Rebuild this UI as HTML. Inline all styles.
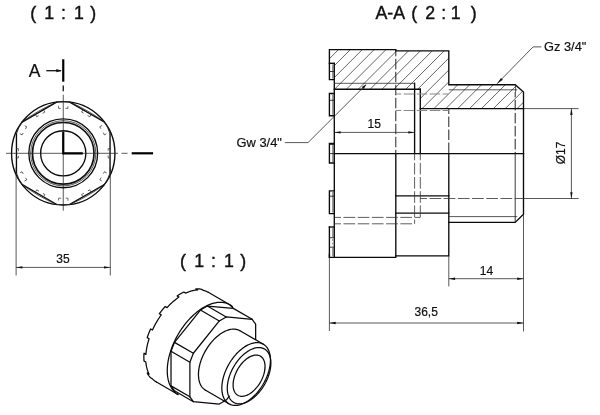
<!DOCTYPE html>
<html><head><meta charset="utf-8"><title>A-A section drawing</title>
<style>
html,body{margin:0;padding:0;background:#fff;}
svg{display:block;}
text{font-family:"Liberation Sans",sans-serif;fill:#111;stroke:#111;stroke-width:0.2;}
.ti{stroke-width:0.4;}
.k{stroke:#0a0a0a;stroke-width:1.35;fill:none;stroke-linecap:square;stroke-linejoin:miter;}
.k2{stroke:#111;stroke-width:1.7;fill:none;}
.kk{stroke:#111;stroke-width:1.3;fill:none;}
.m{stroke:#222;stroke-width:0.9;fill:none;}
.t{stroke:#222;stroke-width:0.75;fill:none;}
.h{stroke:#333;stroke-width:0.75;fill:none;}
.d{stroke:#222;stroke-width:1.0;fill:none;stroke-dasharray:10.5 2.5;stroke-dashoffset:5.1;}
.d2{stroke:#888;stroke-width:1.1;fill:none;stroke-dasharray:10.5 2.5;stroke-dashoffset:5.1;}
.nm{stroke:#333;stroke-width:0.7;fill:none;stroke-dasharray:4.8 4.6 4.8 100;}
.d4{stroke:#333;stroke-width:0.8;fill:none;stroke-dasharray:11.7 2.5;stroke-dashoffset:5;}
.d3{stroke:#444;stroke-width:0.6;fill:none;stroke-dasharray:2 1.5;}
.cut{stroke:#000;stroke-width:2.2;fill:none;stroke-linecap:butt;stroke-linejoin:miter;}
.f{fill:#111;stroke:none;}
.i{stroke:#0a0a0a;stroke-width:1.25;fill:none;stroke-linecap:round;stroke-linejoin:round;}
.it{stroke:#222;stroke-width:0.75;fill:none;stroke-linecap:round;stroke-linejoin:round;}
</style></head><body>
<svg style="will-change:transform" width="600" height="415" viewBox="0 0 600 415">
<rect width="600" height="415" fill="#fff"/>
<clipPath id="hc"><path d="M329.40,49.60 L395.80,49.60 L395.80,50.90 L448.80,50.90 L448.80,84.70 L515.20,84.70 L523.50,92.00 L523.50,108.60 L420.30,108.60 L420.30,89.20 L334.30,89.20 L334.30,63.30 L329.40,63.30 Z"/></clipPath>
<g clip-path="url(#hc)">
<line class="h" x1="253.06" y1="40.00" x2="178.06" y2="115.00"/>
<line class="h" x1="264.94" y1="40.00" x2="189.94" y2="115.00"/>
<line class="h" x1="276.82" y1="40.00" x2="201.82" y2="115.00"/>
<line class="h" x1="288.70" y1="40.00" x2="213.70" y2="115.00"/>
<line class="h" x1="300.58" y1="40.00" x2="225.58" y2="115.00"/>
<line class="h" x1="312.46" y1="40.00" x2="237.46" y2="115.00"/>
<line class="h" x1="324.34" y1="40.00" x2="249.34" y2="115.00"/>
<line class="h" x1="336.22" y1="40.00" x2="261.22" y2="115.00"/>
<line class="h" x1="348.10" y1="40.00" x2="273.10" y2="115.00"/>
<line class="h" x1="359.98" y1="40.00" x2="284.98" y2="115.00"/>
<line class="h" x1="371.86" y1="40.00" x2="296.86" y2="115.00"/>
<line class="h" x1="383.74" y1="40.00" x2="308.74" y2="115.00"/>
<line class="h" x1="395.62" y1="40.00" x2="320.62" y2="115.00"/>
<line class="h" x1="407.50" y1="40.00" x2="332.50" y2="115.00"/>
<line class="h" x1="419.38" y1="40.00" x2="344.38" y2="115.00"/>
<line class="h" x1="431.26" y1="40.00" x2="356.26" y2="115.00"/>
<line class="h" x1="443.14" y1="40.00" x2="368.14" y2="115.00"/>
<line class="h" x1="455.02" y1="40.00" x2="380.02" y2="115.00"/>
<line class="h" x1="466.90" y1="40.00" x2="391.90" y2="115.00"/>
<line class="h" x1="478.78" y1="40.00" x2="403.78" y2="115.00"/>
<line class="h" x1="490.66" y1="40.00" x2="415.66" y2="115.00"/>
<line class="h" x1="502.54" y1="40.00" x2="427.54" y2="115.00"/>
<line class="h" x1="514.42" y1="40.00" x2="439.42" y2="115.00"/>
<line class="h" x1="526.30" y1="40.00" x2="451.30" y2="115.00"/>
<line class="h" x1="538.18" y1="40.00" x2="463.18" y2="115.00"/>
<line class="h" x1="550.06" y1="40.00" x2="475.06" y2="115.00"/>
<line class="h" x1="561.94" y1="40.00" x2="486.94" y2="115.00"/>
<line class="h" x1="573.82" y1="40.00" x2="498.82" y2="115.00"/>
<line class="h" x1="585.70" y1="40.00" x2="510.70" y2="115.00"/>
</g>
<path class="k" d="M334.30,79.60 L329.40,79.60 L329.40,49.60 L395.80,49.60 L395.80,50.90 L448.80,50.90 L448.80,84.70 L515.20,84.70 L523.50,92.00 L523.50,214.30 L515.20,222.40 L448.80,222.40"/>
<path class="k" d="M329.40,254.30 L329.40,257.30 L395.80,257.30 L395.80,255.90 L448.80,255.90 L448.80,153.60"/>
<line class="k" x1="334.30" y1="63.30" x2="334.30" y2="257.30"/>
<line class="k" x1="334.30" y1="89.20" x2="420.30" y2="89.20"/>
<line class="k" x1="420.30" y1="89.20" x2="420.30" y2="153.60"/>
<line class="k" x1="414.60" y1="83.30" x2="414.60" y2="153.60"/>
<line class="k" x1="420.30" y1="108.60" x2="523.50" y2="108.60"/>
<line class="t" x1="334.30" y1="83.30" x2="414.60" y2="83.30"/>
<line class="t" x1="448.80" y1="89.80" x2="517.20" y2="89.80"/>
<line class="k" x1="334.30" y1="153.60" x2="523.50" y2="153.60"/>
<line class="k" x1="395.80" y1="153.60" x2="395.80" y2="255.90"/>
<line class="k" x1="395.80" y1="195.90" x2="448.80" y2="195.90"/>
<line class="k" x1="395.80" y1="213.10" x2="448.80" y2="213.10"/>
<line class="t" x1="448.80" y1="216.60" x2="517.20" y2="216.60"/>
<line class="m" x1="515.20" y1="153.60" x2="515.20" y2="222.40"/>
<line class="t" x1="515.60" y1="84.70" x2="515.60" y2="92.00"/>
<line class="d" x1="395.80" y1="50.90" x2="395.80" y2="153.60"/>
<line class="d" x1="448.80" y1="108.60" x2="448.80" y2="153.60"/>
<line class="d" x1="515.20" y1="92.00" x2="515.20" y2="153.60"/>
<line class="d2" x1="395.80" y1="94.00" x2="448.80" y2="94.00"/>
<line class="d2" x1="395.80" y1="110.50" x2="448.80" y2="110.50"/>
<line class="d4" x1="414.60" y1="153.60" x2="414.60" y2="223.80"/>
<line class="d4" x1="420.30" y1="153.60" x2="420.30" y2="217.40"/>
<line class="d4" x1="334.30" y1="217.40" x2="420.30" y2="217.40"/>
<line class="d4" x1="334.30" y1="223.80" x2="414.60" y2="223.80"/>
<line class="d4" x1="420.30" y1="198.50" x2="523.50" y2="198.50"/>
<line class="k" x1="329.40" y1="63.30" x2="334.30" y2="63.30"/>
<line class="t" x1="332.90" y1="64.30" x2="332.90" y2="78.60"/>
<line class="m" x1="329.40" y1="71.50" x2="334.30" y2="71.50"/>
<path class="k" d="M334.30,93.50 L329.40,93.50 L329.40,115.70 L334.30,115.70"/>
<line class="t" x1="332.90" y1="94.50" x2="332.90" y2="114.70"/>
<line class="m" x1="329.40" y1="100.30" x2="334.30" y2="100.30"/>
<path class="k" d="M334.30,143.50 L329.40,143.50 L329.40,163.00 L334.30,163.00"/>
<line class="t" x1="332.90" y1="144.50" x2="332.90" y2="162.00"/>
<path class="k" d="M334.30,190.90 L329.40,190.90 L329.40,213.60 L334.30,213.60"/>
<line class="t" x1="332.90" y1="191.90" x2="332.90" y2="212.60"/>
<line class="m" x1="329.40" y1="196.20" x2="334.30" y2="196.20"/>
<line class="k" x1="329.40" y1="227.00" x2="334.30" y2="227.00"/>
<line class="k" x1="329.40" y1="227.00" x2="329.40" y2="257.30"/>
<line class="m" x1="329.40" y1="237.70" x2="334.30" y2="237.70"/>
<line class="m" x1="329.40" y1="247.20" x2="334.30" y2="247.20"/>
<line class="t" x1="332.90" y1="228.00" x2="332.90" y2="237.00"/>
<line class="t" x1="332.90" y1="248.00" x2="332.90" y2="256.30"/>
<line class="d3" x1="332.40" y1="239.00" x2="332.40" y2="246.50"/>
<line class="m" x1="329.40" y1="153.60" x2="334.30" y2="153.60"/>
<line class="k2" x1="329.40" y1="143.90" x2="334.30" y2="143.90"/>
<line class="t" x1="523.50" y1="108.60" x2="578.60" y2="108.60"/>
<line class="t" x1="523.50" y1="198.50" x2="578.60" y2="198.50"/>
<line class="t" x1="571.40" y1="108.60" x2="571.40" y2="198.50"/>
<polygon class="f" points="571.40,108.60 572.60,114.90 570.20,114.90"/>
<polygon class="f" points="571.40,198.50 570.20,192.20 572.60,192.20"/>
<line class="t" x1="448.80" y1="255.90" x2="448.80" y2="286.40"/>
<line class="t" x1="523.50" y1="214.00" x2="523.50" y2="331.50"/>
<line class="t" x1="448.80" y1="278.70" x2="523.50" y2="278.70"/>
<polygon class="f" points="448.80,278.70 455.10,277.50 455.10,279.90"/>
<polygon class="f" points="523.50,278.70 517.20,279.90 517.20,277.50"/>
<line class="t" x1="329.40" y1="257.30" x2="329.40" y2="331.00"/>
<line class="t" x1="329.40" y1="323.00" x2="523.50" y2="323.00"/>
<polygon class="f" points="329.40,323.00 335.70,321.80 335.70,324.20"/>
<polygon class="f" points="523.50,323.00 517.20,324.20 517.20,321.80"/>
<line class="t" x1="334.30" y1="132.40" x2="414.60" y2="132.40"/>
<polygon class="f" points="334.30,132.40 340.60,131.20 340.60,133.60"/>
<polygon class="f" points="414.60,132.40 408.30,133.60 408.30,131.20"/>
<path class="t" d="M497.00,83.80 L533.10,46.90 L541.30,46.90"/>
<polygon class="f" points="497.00,83.80 501.03,77.93 502.87,79.77"/>
<path class="t" d="M366.10,84.60 L308.00,142.60 L284.80,142.60"/>
<polygon class="f" points="366.30,84.40 363.75,88.93 361.77,86.95"/>
<text x="374.30" y="127.80" font-size="12" text-anchor="middle" >15</text>
<text x="486.40" y="274.60" font-size="12" text-anchor="middle" >14</text>
<text x="426.20" y="316.40" font-size="12" text-anchor="middle" >36,5</text>
<text x="63.00" y="263.00" font-size="12" text-anchor="middle" >35</text>
<text transform="translate(564.8,152.9) rotate(-90)" font-size="12" text-anchor="middle">Ø17</text>
<text x="544.10" y="50.70" font-size="12.3" text-anchor="start" textLength="42.2" lengthAdjust="spacingAndGlyphs">Gz 3/4&quot;</text>
<text x="236.50" y="146.80" font-size="12.3" text-anchor="start" textLength="45.4" lengthAdjust="spacingAndGlyphs">Gw 3/4&quot;</text>
<text y="19.4" font-size="17.8" text-anchor="middle" class="ti"><tspan x="392.3">A-A</tspan> <tspan x="416.7">(</tspan> <tspan x="432.7">2</tspan> <tspan x="446.2">:</tspan> <tspan x="458.2">1</tspan> <tspan x="473.7">)</tspan></text>
<text y="19.4" font-size="17.8" text-anchor="middle" class="ti"><tspan x="35.8">(</tspan> <tspan x="51.6">1</tspan> <tspan x="65.9">:</tspan> <tspan x="81.3">1</tspan> <tspan x="93.2">)</tspan></text>
<text y="266.8" font-size="17.8" text-anchor="middle" class="ti"><tspan x="185.4">(</tspan> <tspan x="201.6">1</tspan> <tspan x="215.9">:</tspan> <tspan x="231.3">1</tspan> <tspan x="243.2">)</tspan></text>
<text x="34.50" y="77.00" font-size="17.5" text-anchor="middle" >A</text>
<circle class="k" cx="63.25" cy="153.3" r="51.7"/>
<circle class="k" cx="63.25" cy="153.3" r="34.4"/>
<circle class="t" cx="63.25" cy="153.3" r="32.6"/>
<circle class="k2" cx="63.25" cy="153.3" r="30.8"/>
<circle class="k" cx="63.25" cy="153.3" r="22.6"/>
<line class="k" x1="110.05" y1="172.78" x2="110.05" y2="133.82"/>
<line class="k" x1="104.21" y1="121.98" x2="69.89" y2="102.17"/>
<path class="t" d="M104.21,121.98 Q88.25,110.00 69.89,102.17"/>
<line class="k" x1="56.61" y1="102.17" x2="22.29" y2="121.98"/>
<path class="t" d="M56.61,102.17 Q38.25,110.00 22.29,121.98"/>
<line class="k" x1="16.45" y1="133.82" x2="16.45" y2="172.78"/>
<line class="k" x1="22.29" y1="184.62" x2="56.61" y2="204.43"/>
<path class="t" d="M22.29,184.62 Q38.25,196.60 56.61,204.43"/>
<line class="k" x1="69.89" y1="204.43" x2="104.21" y2="184.62"/>
<path class="t" d="M69.89,204.43 Q88.25,196.60 104.21,184.62"/>
<path class="m" d="M110.05,133.82 Q108.28,127.30 104.21,121.98"/>
<path class="m" d="M69.89,102.17 Q63.25,101.30 56.61,102.17"/>
<path class="m" d="M22.29,121.98 Q18.22,127.30 16.45,133.82"/>
<path class="m" d="M16.45,172.78 Q18.22,179.30 22.29,184.62"/>
<path class="m" d="M56.61,204.43 Q63.25,205.30 69.89,204.43"/>
<path class="m" d="M104.21,184.62 Q108.28,179.30 110.05,172.78"/>
<g transform="translate(63.25,153.3) rotate(0)"><path class="nm" d="M47.5,-4.7 L44.9,-4.7 L44.9,4.7 L47.5,4.7"/></g>
<g transform="translate(63.25,153.3) rotate(-30)"><path class="nm" d="M47.5,-4.7 L44.9,-4.7 L44.9,4.7 L47.5,4.7"/></g>
<g transform="translate(63.25,153.3) rotate(-60)"><path class="nm" d="M47.5,-4.7 L44.9,-4.7 L44.9,4.7 L47.5,4.7"/></g>
<g transform="translate(63.25,153.3) rotate(-90)"><path class="nm" d="M47.5,-4.7 L44.9,-4.7 L44.9,4.7 L47.5,4.7"/></g>
<g transform="translate(63.25,153.3) rotate(-120)"><path class="nm" d="M47.5,-4.7 L44.9,-4.7 L44.9,4.7 L47.5,4.7"/></g>
<g transform="translate(63.25,153.3) rotate(-150)"><path class="nm" d="M47.5,-4.7 L44.9,-4.7 L44.9,4.7 L47.5,4.7"/></g>
<g transform="translate(63.25,153.3) rotate(-180)"><path class="nm" d="M47.5,-4.7 L44.9,-4.7 L44.9,4.7 L47.5,4.7"/></g>
<g transform="translate(63.25,153.3) rotate(-210)"><path class="nm" d="M47.5,-4.7 L44.9,-4.7 L44.9,4.7 L47.5,4.7"/></g>
<g transform="translate(63.25,153.3) rotate(-240)"><path class="nm" d="M47.5,-4.7 L44.9,-4.7 L44.9,4.7 L47.5,4.7"/></g>
<g transform="translate(63.25,153.3) rotate(-270)"><path class="nm" d="M47.5,-4.7 L44.9,-4.7 L44.9,4.7 L47.5,4.7"/></g>
<g transform="translate(63.25,153.3) rotate(-300)"><path class="nm" d="M47.5,-4.7 L44.9,-4.7 L44.9,4.7 L47.5,4.7"/></g>
<g transform="translate(63.25,153.3) rotate(-330)"><path class="nm" d="M47.5,-4.7 L44.9,-4.7 L44.9,4.7 L47.5,4.7"/></g>
<line class="t" x1="6.00" y1="153.30" x2="118.00" y2="153.30"/>
<line class="t" x1="121.50" y1="153.30" x2="127.50" y2="153.30"/>
<line class="t" x1="63.25" y1="94.70" x2="63.25" y2="210.70"/>
<line class="kk" x1="63.25" y1="85.40" x2="63.25" y2="91.30"/>
<line class="cut" x1="63.25" y1="59.30" x2="63.25" y2="81.70"/>
<path class="cut" d="M63.25,131.70 L63.25,153.30 L82.80,153.30"/>
<line class="cut" x1="131.70" y1="153.30" x2="153.10" y2="153.30"/>
<line class="kk" x1="46.30" y1="70.70" x2="61.00" y2="70.70"/>
<polygon class="f" points="61.80,70.70 56.30,72.30 56.30,69.10"/>
<line class="t" x1="16.10" y1="167.30" x2="16.10" y2="275.50"/>
<line class="t" x1="110.30" y1="167.30" x2="110.30" y2="275.50"/>
<line class="t" x1="16.10" y1="267.40" x2="110.30" y2="267.40"/>
<polygon class="f" points="16.10,267.40 22.40,266.20 22.40,268.60"/>
<polygon class="f" points="110.30,267.40 104.00,268.60 104.00,266.20"/>
<path class="i" d="M208.28,292.31 L208.06,292.19 L207.83,292.06 L207.60,291.94 L207.36,291.82 L207.13,291.70 L206.89,291.59 L206.65,291.49 L206.41,291.38 L206.17,291.28 L205.93,291.18 L205.68,291.09 L205.43,291.00 L205.19,290.91 L204.93,290.83 L204.68,290.75 L204.43,290.67 L204.17,290.60 L203.91,290.53 L203.65,290.46 L203.55,290.44 L201.67,289.35 L201.51,289.31 L201.25,289.26 L200.99,289.20 L200.72,289.15 L200.45,289.10 L200.18,289.06 L199.91,289.02 L199.64,288.98 L199.37,288.94 L199.09,288.91 L198.82,288.89 L198.54,288.86 L198.26,288.85 L197.98,288.83 L197.70,288.82 L197.42,288.81 L197.13,288.80 L196.85,288.80 L196.56,288.80 L196.27,288.81 L195.98,288.82 L195.81,288.83 L197.69,289.91 L197.57,289.92 L197.28,289.93 L196.99,289.95 L196.69,289.98 L196.40,290.01 L196.10,290.04 L195.81,290.07 L195.51,290.11 L195.21,290.15 L194.91,290.20 L194.61,290.25 L194.31,290.30 L194.00,290.36 L193.70,290.41 L193.40,290.48 L193.09,290.54 L192.78,290.62 L192.48,290.69 L192.17,290.77 L191.86,290.85 L191.55,290.93 L191.24,291.02 L190.93,291.11 L190.62,291.21 L190.31,291.31 L190.00,291.41 L189.68,291.51 L189.37,291.62 L189.06,291.73 L188.74,291.85 L188.43,291.97 L188.11,292.09 L187.79,292.22 L187.48,292.35 L187.16,292.48 L186.84,292.62 L186.53,292.76 L186.21,292.90 L185.89,293.05 L185.76,293.11 L183.88,292.02 L183.69,292.11 L183.37,292.27 L183.06,292.42 L182.74,292.58 L182.42,292.75 L182.10,292.91 L181.78,293.08 L181.46,293.26 L181.14,293.43 L180.82,293.61 L180.50,293.80 L180.18,293.98 L179.86,294.17 L179.54,294.36 L179.22,294.56 L178.90,294.76 L178.58,294.96 L178.26,295.17 L177.94,295.37 L177.63,295.59 L177.31,295.80 L177.12,295.93 L178.99,297.02 L178.87,297.10 L178.55,297.32 L178.23,297.55 L177.91,297.77 L177.60,298.00 L177.28,298.24 L176.96,298.47 L176.65,298.71 L176.33,298.95 L176.02,299.20 L175.70,299.44 L175.39,299.69 L175.07,299.95 L174.76,300.20 L174.45,300.46 L174.14,300.72 L173.83,300.99 L173.52,301.25 L173.21,301.52 L172.90,301.80 L172.59,302.07 L172.28,302.35 L171.97,302.63 L171.67,302.91 L171.36,303.20 L171.06,303.49 L170.75,303.78 L170.45,304.07 L170.15,304.37 L169.85,304.67 L169.55,304.97 L169.25,305.27 L168.95,305.58 L168.65,305.88 L168.36,306.20 L168.06,306.51 L167.77,306.82 L167.48,307.14 L167.19,307.46 L167.07,307.59 L165.19,306.51 L165.02,306.70 L164.73,307.02 L164.44,307.35 L164.15,307.68 L163.87,308.01 L163.58,308.34 L163.30,308.68 L163.02,309.02 L162.74,309.35 L162.46,309.70 L162.18,310.04 L161.91,310.39 L161.63,310.73 L161.36,311.08 L161.09,311.43 L160.82,311.79 L160.55,312.14 L160.28,312.50 L160.01,312.86 L159.75,313.22 L159.49,313.58 L159.33,313.80 L161.21,314.88 L161.10,315.03 L160.84,315.39 L160.59,315.76 L160.33,316.13 L160.08,316.50 L159.82,316.87 L159.57,317.24 L159.32,317.62 L159.08,318.00 L158.83,318.37 L158.59,318.75 L158.34,319.13 L158.10,319.52 L157.86,319.90 L157.63,320.28 L157.39,320.67 L157.16,321.06 L156.93,321.45 L156.70,321.84 L156.47,322.23 L156.25,322.62 L156.02,323.01 L155.80,323.41 L155.58,323.80 L155.37,324.20 L155.15,324.60 L154.94,325.00 L154.73,325.39 L154.52,325.79 L154.31,326.20 L154.11,326.60 L153.91,327.00 L153.71,327.40 L153.51,327.81 L153.31,328.21 L153.12,328.62 L152.93,329.02 L152.74,329.43 L152.55,329.84 L152.48,330.00 L150.60,328.92 L150.49,329.16 L150.31,329.57 L150.13,329.98 L149.95,330.39 L149.77,330.80 L149.60,331.21 L149.43,331.62 L149.26,332.03 L149.10,332.44 L148.93,332.85 L148.77,333.27 L148.61,333.68 L148.46,334.09 L148.30,334.50 L148.15,334.92 L148.00,335.33 L147.86,335.74 L147.71,336.15 L147.57,336.57 L147.43,336.98 L147.30,337.39 L147.22,337.64 L149.09,338.72 L149.04,338.89 L148.91,339.30 L148.78,339.71 L148.65,340.13 L148.53,340.54 L148.41,340.95 L148.29,341.36 L148.18,341.77 L148.06,342.18 L147.95,342.59 L147.84,343.00 L147.74,343.41 L147.64,343.82 L147.54,344.23 L147.44,344.64 L147.34,345.04 L147.25,345.45 L147.16,345.86 L147.07,346.26 L146.99,346.67 L146.91,347.07 L146.83,347.47 L146.75,347.88 L146.68,348.28 L146.61,348.68 L146.54,349.08 L146.48,349.48 L146.42,349.88 L146.36,350.27 L146.30,350.67 L146.24,351.06 L146.19,351.46 L146.14,351.85 L146.10,352.24 L146.06,352.63 L146.02,353.02 L145.98,353.41 L145.94,353.80 L145.91,354.18 L145.90,354.34 L144.02,353.25 L144.00,353.48 L143.98,353.87 L143.95,354.25 L143.93,354.63 L143.91,355.01 L143.90,355.39 L143.89,355.76 L143.88,356.14 L143.87,356.51 L143.86,356.88 L143.86,357.25 L143.86,357.62 L143.87,357.99 L143.88,358.35 L143.89,358.72 L143.90,359.08 L143.91,359.44 L143.93,359.80 L143.95,360.15 L143.98,360.51 L144.00,360.86 L144.02,361.07 L145.90,362.15 L145.91,362.29 L145.94,362.64 L145.98,362.99 L146.02,363.33 L146.06,363.68 L146.10,364.02 L146.14,364.36 L146.19,364.69 L146.24,365.03 L146.30,365.36 L146.36,365.69 L146.42,366.02 L146.48,366.35 L146.54,366.67 L146.61,366.99 L146.68,367.31 L146.75,367.63 L146.83,367.94 L146.91,368.26 L146.99,368.57 L147.07,368.87 L147.16,369.18 L147.25,369.48 L147.34,369.78 L147.44,370.08 L147.54,370.37 L147.64,370.67 L147.74,370.96 L147.84,371.24 L147.95,371.53 L148.06,371.81 L148.18,372.09 L148.29,372.37 L148.41,372.64 L148.53,372.92 L148.65,373.18 L148.78,373.45 L148.91,373.71 L149.04,373.98 L149.09,374.08 L147.22,372.99 L147.30,373.15 L147.43,373.40 L147.57,373.66 L147.71,373.91 L147.86,374.15 L148.00,374.40 L148.15,374.64 L148.30,374.87 L148.46,375.11 L148.61,375.34 L148.77,375.57 L148.93,375.80 L149.10,376.02 L149.26,376.24 L149.43,376.46 L149.60,376.67 L149.77,376.88 L149.95,377.09 L150.13,377.29 L150.31,377.49 L150.49,377.69 L150.60,377.81 L152.48,378.89 L152.55,378.97 L152.74,379.16 L152.93,379.35 L153.12,379.54 L153.31,379.72 L153.51,379.90 L153.71,380.07 L153.91,380.25 L154.11,380.41 L154.31,380.58 L154.52,380.74 L154.73,380.90 L154.94,381.06 L155.15,381.21 L155.37,381.36 L155.58,381.51 L155.80,381.65 L156.02,381.79 L156.25,381.92 L156.47,382.05"/>
<path class="i" d="M208.28,292.31 L229.80,304.73 L233.31,308.39"/>
<path class="i" d="M156.47,382.05 L177.99,394.48"/>
<path class="i" d="M177.99,394.48 L176.69,393.65 L175.46,392.70 L174.31,391.64 L173.23,390.46 L172.24,389.18 L171.33,387.80 L170.51,386.31 L169.78,384.72 L169.13,383.05 L168.58,381.28 L168.13,379.43 L167.76,377.50 L167.50,375.49 L167.33,373.42 L167.26,371.28 L167.28,369.09 L167.40,366.84 L167.62,364.55 L167.94,362.22 L168.35,359.86 L168.86,357.46 L169.45,355.05 L170.14,352.62 L170.92,350.19 L171.79,347.75 L172.74,345.32 L173.78,342.90 L174.89,340.50 L176.08,338.12 L177.35,335.77 L178.68,333.46 L180.09,331.19 L181.55,328.97 L183.08,326.81 L184.66,324.70 L186.29,322.67 L187.97,320.70 L189.69,318.81 L191.45,317.00 L193.24,315.28 L195.06,313.65 L196.90,312.11 L198.76,310.68 L200.64,309.35 L202.52,308.12 L204.41,307.01 L206.29,306.00 L208.17,305.12 L210.04,304.35 L211.89,303.70 L213.73,303.18 L215.53,302.77 L217.30,302.49 L219.04,302.34 L220.74,302.31 L222.39,302.41 L224.00,302.63 L225.55,302.98 L227.04,303.45 L228.47,304.04 L229.84,304.76 L231.14,305.59 L232.36,306.54"/>
<path class="i" d="M233.31,308.39 L252.19,319.30"/>
<path class="i" d="M207.35,306.08 L226.24,316.98"/>
<path class="i" d="M200.43,310.07 L219.31,320.98"/>
<path class="i" d="M174.48,342.36 L193.36,353.26"/>
<path class="i" d="M171.01,351.29 L189.89,362.19"/>
<path class="i" d="M171.01,385.89 L189.89,396.79"/>
<path class="i" d="M174.48,390.82 L193.36,401.72"/>
<path class="i" d="M233.31,308.39 L207.35,306.08 L200.43,310.07 L174.48,342.36 L171.01,351.29 L171.01,385.89 L174.48,390.82"/>
<path class="i" d="M255.65,339.60 L255.65,324.22 L252.19,319.30 L226.24,316.98 L219.31,320.98 L193.36,353.26 L189.89,362.19 L189.89,396.79 L193.36,401.72 L219.31,404.04 L226.24,400.04 L229.35,396.16"/>
<path class="i" d="M205.58,390.28 L204.72,389.73 L203.91,389.10 L203.14,388.40 L202.43,387.62 L201.77,386.77 L201.17,385.85 L200.62,384.87 L200.14,383.82 L199.71,382.70 L199.34,381.53 L199.04,380.30 L198.80,379.02 L198.62,377.69 L198.51,376.32 L198.46,374.90 L198.48,373.45 L198.56,371.96 L198.70,370.44 L198.91,368.89 L199.19,367.33 L199.52,365.74 L199.92,364.14 L200.37,362.53 L200.89,360.91 L201.46,359.30 L202.09,357.69 L202.78,356.08 L203.52,354.49 L204.31,352.91 L205.15,351.35 L206.03,349.82 L206.96,348.31 L207.93,346.84 L208.94,345.40 L209.99,344.01 L211.07,342.65 L212.18,341.35 L213.32,340.10 L214.49,338.89 L215.68,337.75 L216.88,336.67 L218.11,335.65 L219.34,334.70 L220.58,333.81 L221.83,333.00 L223.09,332.26 L224.34,331.59 L225.58,331.00 L226.82,330.49 L228.05,330.06 L229.27,329.70 L230.46,329.43 L231.64,329.25 L232.79,329.14 L233.92,329.12 L235.02,329.18 L236.08,329.33 L237.11,329.56 L238.10,329.87 L239.06,330.26 L239.96,330.73"/>
<path class="i" d="M239.96,330.73 L263.34,344.22"/>
<path class="i" d="M205.58,390.28 L228.95,403.78"/>
<path class="i" d="M221.83,388.04 L221.87,386.56 L221.96,385.05 L222.13,383.51 L222.36,381.95 L222.65,380.36 L223.00,378.76 L223.42,377.14 L223.90,375.51 L224.44,373.88 L225.04,372.26 L225.69,370.63 L226.40,369.02 L227.17,367.41 L227.98,365.83 L228.84,364.27 L229.75,362.73 L230.71,361.23 L231.70,359.76 L232.74,358.32 L233.81,356.93 L234.91,355.59 L236.05,354.30 L237.21,353.05 L238.39,351.87 L239.60,350.74 L240.82,349.68 L242.06,348.68 L243.31,347.76 L244.57,346.90 L245.83,346.11 L247.09,345.40 L248.35,344.77 L249.60,344.22 L250.85,343.74 L252.08,343.35 L253.30,343.04 L254.49,342.81 L255.67,342.67 L256.82,342.62 L257.93,342.64 L259.02,342.75 L260.08,342.95 L261.09,343.23 L262.07,343.59 L263.00,344.04 L263.88,344.56 L264.72,345.17 L265.51,345.85 L266.25,346.61 L266.93,347.44 L267.56,348.34 L268.13,349.32 L268.64,350.36 L269.08,351.46 L269.47,352.62 L269.80,353.85 L270.06,355.12 L270.25,356.45 L270.38,357.82 L270.45,359.24 L270.45,360.70 L270.38,362.19 L270.25,363.72 L270.06,365.27 L269.80,366.85 L269.47,368.44 L269.08,370.05 L268.64,371.67 L268.13,373.30 L267.56,374.93 L266.93,376.56 L266.25,378.18 L265.51,379.79 L264.72,381.38 L263.88,382.95 L263.00,384.50 L262.07,386.02 L261.09,387.51 L260.08,388.96 L259.02,390.38 L257.93,391.74 L256.82,393.06 L255.67,394.33 L254.49,395.55 L253.30,396.70 L252.08,397.80 L250.85,398.83 L249.60,399.79 L248.35,400.68 L247.09,401.50 L245.83,402.25 L244.57,402.92 L243.31,403.52 L242.06,404.03 L240.82,404.46 L239.60,404.82 L238.39,405.08 L237.21,405.27 L236.05,405.37 L234.91,405.38 L233.81,405.31 L232.74,405.16 L231.70,404.92 L230.71,404.60 L229.75,404.20 L228.84,403.71 L227.98,403.15 L227.17,402.50 L226.40,401.78 L225.69,400.99 L225.04,400.12 L224.44,399.18 L223.90,398.17 L223.42,397.10 L223.00,395.97 L222.65,394.77 L222.36,393.52 L222.13,392.22 L221.96,390.87 L221.87,389.47 L221.83,388.04"/>
<path class="i" d="M227.28,388.28 L227.31,386.95 L227.40,385.60 L227.55,384.22 L227.75,382.82 L228.01,381.39 L228.33,379.95 L228.71,378.51 L229.14,377.05 L229.62,375.59 L230.15,374.13 L230.74,372.67 L231.38,371.22 L232.06,369.79 L232.79,368.37 L233.57,366.97 L234.38,365.59 L235.24,364.24 L236.13,362.92 L237.06,361.64 L238.02,360.39 L239.01,359.19 L240.02,358.03 L241.06,356.92 L242.13,355.85 L243.21,354.84 L244.31,353.89 L245.42,353.00 L246.54,352.17 L247.66,351.40 L248.79,350.69 L249.92,350.06 L251.05,349.49 L252.18,348.99 L253.29,348.57 L254.40,348.22 L255.49,347.94 L256.56,347.74 L257.61,347.61 L258.64,347.56 L259.64,347.58 L260.62,347.68 L261.56,347.86 L262.47,348.11 L263.35,348.43 L264.18,348.83 L264.98,349.30 L265.73,349.85 L266.44,350.46 L267.10,351.14 L267.71,351.88 L268.27,352.69 L268.78,353.57 L269.24,354.50 L269.64,355.49 L269.99,356.53 L270.28,357.62 L270.51,358.77 L270.69,359.96 L270.80,361.19 L270.86,362.46 L270.86,363.77 L270.80,365.11 L270.69,366.47 L270.51,367.87 L270.28,369.28 L269.99,370.71 L269.64,372.15 L269.24,373.61 L268.78,375.07 L268.27,376.53 L267.71,377.99 L267.10,379.44 L266.44,380.88 L265.73,382.31 L264.98,383.72 L264.18,385.11 L263.35,386.47 L262.47,387.81 L261.56,389.11 L260.62,390.37 L259.64,391.60 L258.64,392.78 L257.61,393.92 L256.56,395.01 L255.49,396.04 L254.40,397.02 L253.29,397.95 L252.18,398.81 L251.05,399.61 L249.92,400.35 L248.79,401.02 L247.66,401.62 L246.54,402.15 L245.42,402.61 L244.31,403.00 L243.21,403.32 L242.13,403.56 L241.06,403.72 L240.02,403.81 L239.01,403.82 L238.02,403.76 L237.06,403.62 L236.13,403.41 L235.24,403.12 L234.38,402.76 L233.57,402.33 L232.79,401.82 L232.06,401.24 L231.38,400.60 L230.74,399.88 L230.15,399.10 L229.62,398.26 L229.14,397.36 L228.71,396.40 L228.33,395.38 L228.01,394.31 L227.75,393.19 L227.55,392.03 L227.40,390.82 L227.31,389.56 L227.28,388.28"/>
<path class="i" d="M233.11,384.91 L233.13,383.94 L233.19,382.95 L233.30,381.94 L233.45,380.91 L233.64,379.87 L233.88,378.82 L234.15,377.75 L234.46,376.69 L234.82,375.62 L235.21,374.55 L235.64,373.48 L236.11,372.42 L236.61,371.37 L237.14,370.33 L237.71,369.30 L238.31,368.29 L238.93,367.30 L239.59,366.34 L240.27,365.40 L240.97,364.48 L241.70,363.60 L242.44,362.75 L243.20,361.93 L243.98,361.15 L244.78,360.42 L245.58,359.72 L246.39,359.06 L247.21,358.45 L248.04,357.89 L248.87,357.37 L249.70,356.91 L250.53,356.49 L251.35,356.13 L252.17,355.82 L252.98,355.56 L253.77,355.36 L254.56,355.21 L255.33,355.11 L256.08,355.08 L256.82,355.09 L257.53,355.17 L258.23,355.30 L258.89,355.48 L259.53,355.72 L260.15,356.01 L260.73,356.36 L261.28,356.75 L261.80,357.20 L262.28,357.70 L262.73,358.25 L263.14,358.84 L263.52,359.48 L263.85,360.16 L264.14,360.89 L264.40,361.65 L264.61,362.45 L264.78,363.29 L264.91,364.16 L265.00,365.07 L265.04,366.00 L265.04,366.95 L265.00,367.93 L264.91,368.94 L264.78,369.96 L264.61,370.99 L264.40,372.04 L264.14,373.10 L263.85,374.16 L263.52,375.23 L263.14,376.30 L262.73,377.37 L262.28,378.44 L261.80,379.49 L261.28,380.54 L260.73,381.57 L260.15,382.59 L259.53,383.59 L258.89,384.57 L258.23,385.52 L257.53,386.45 L256.82,387.35 L256.08,388.21 L255.33,389.05 L254.56,389.85 L253.77,390.60 L252.98,391.32 L252.17,392.00 L251.35,392.63 L250.53,393.22 L249.70,393.76 L248.87,394.25 L248.04,394.69 L247.21,395.08 L246.39,395.42 L245.58,395.70 L244.78,395.93 L243.98,396.11 L243.20,396.23 L242.44,396.30 L241.70,396.31 L240.97,396.26 L240.27,396.16 L239.59,396.00 L238.93,395.79 L238.31,395.53 L237.71,395.21 L237.14,394.84 L236.61,394.41 L236.11,393.94 L235.64,393.42 L235.21,392.85 L234.82,392.23 L234.46,391.57 L234.15,390.87 L233.88,390.12 L233.64,389.34 L233.45,388.52 L233.30,387.66 L233.19,386.77 L233.13,385.86 L233.11,384.91"/>
</svg>
</body></html>
